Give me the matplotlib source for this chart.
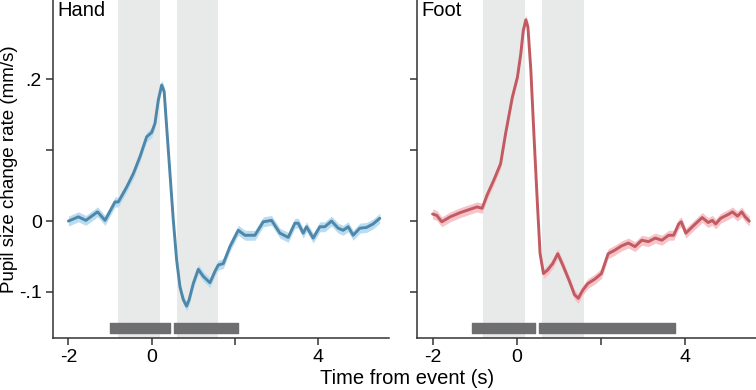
import matplotlib
matplotlib.use('Agg')
from matplotlib import pyplot as plt
import numpy as np

plt.rcParams['font.family'] = ['Liberation Sans', 'DejaVu Sans']

# hand condition
hand_t = [-2.0, -1.76, -1.58, -1.30, -1.12, -0.88, -0.80, -0.60, -0.44, -0.28, -0.12, 0.0, 0.08, 0.16,
          0.24, 0.30, 0.36, 0.44, 0.52, 0.60, 0.68, 0.76, 0.84, 0.90, 1.0, 1.12, 1.24, 1.40, 1.52, 1.60,
          1.72, 1.88, 2.08, 2.24, 2.48, 2.68, 2.88, 3.08, 3.28, 3.44, 3.52, 3.64, 3.72, 3.88, 4.04, 4.16,
          4.32, 4.48, 4.60, 4.72, 4.84, 5.00, 5.16, 5.32, 5.48]
hand_v = [0.0, 0.006, 0.001, 0.013, 0.001, 0.027, 0.027, 0.048, 0.067, 0.091, 0.119, 0.125, 0.138, 0.171,
          0.192, 0.183, 0.133, 0.067, 0.001, -0.055, -0.093, -0.111, -0.120, -0.111, -0.088, -0.068, -0.078,
          -0.087, -0.071, -0.062, -0.060, -0.036, -0.013, -0.020, -0.020, -0.001, 0.001, -0.017, -0.023,
          -0.003, -0.003, -0.017, -0.008, -0.024, -0.008, -0.008, 0.0, -0.010, -0.013, -0.008, -0.020,
          -0.010, -0.009, -0.004, 0.004]

# foot condition
foot_t = [-2.0, -1.90, -1.78, -1.58, -1.34, -1.14, -0.94, -0.82, -0.70, -0.54, -0.38, -0.26, -0.10, 0.02,
          0.10, 0.16, 0.22, 0.27, 0.34, 0.42, 0.50, 0.56, 0.64, 0.74, 0.86, 0.98, 1.10, 1.26, 1.38, 1.47,
          1.58, 1.70, 1.86, 2.02, 2.18, 2.34, 2.50, 2.66, 2.82, 2.98, 3.14, 3.30, 3.46, 3.62, 3.74, 3.86,
          3.92, 4.03, 4.22, 4.42, 4.56, 4.66, 4.74, 4.86, 5.06, 5.14, 5.26, 5.36, 5.44, 5.54]
foot_v = [0.010, 0.008, -0.001, 0.006, 0.012, 0.016, 0.020, 0.018, 0.037, 0.058, 0.081, 0.124, 0.175, 0.203,
          0.236, 0.269, 0.284, 0.274, 0.213, 0.114, 0.020, -0.046, -0.074, -0.069, -0.060, -0.046, -0.062,
          -0.085, -0.104, -0.109, -0.097, -0.088, -0.082, -0.074, -0.046, -0.041, -0.035, -0.031, -0.036,
          -0.027, -0.029, -0.024, -0.027, -0.020, -0.020, -0.004, -0.001, -0.017, -0.006, 0.005, -0.002,
          0.001, -0.004, 0.004, 0.010, 0.013, 0.007, 0.013, 0.006, 0.0]

sem = 0.007

# grey windows (s)
windows = [(-0.8, 0.2), (0.6, 1.6)]
# significance bars (start, end)
hand_sig = [(-0.99, 0.44), (0.54, 2.08)]
foot_sig = [(-1.06, 0.44), (0.54, 3.77)]

panels = [("Hand", hand_t, hand_v, hand_sig, '#4f87a9', '#b9dcf1'),
          ("Foot", foot_t, foot_v, foot_sig, '#c25a62', '#f6c3c8')]

fig = plt.figure(figsize=(7.56, 3.9), dpi=100)
ax1 = fig.add_axes([0.0701, 0.1333, 0.4444, 0.8667])
ax2 = fig.add_axes([0.5516, 0.1333, 0.4484, 0.8667], sharey=ax1)

for ax, (name, t, v, sig, lc, bc) in zip([ax1, ax2], panels):
    for a, b in windows:
        ax.axvspan(a, b, color='#e8eaea', lw=0, zorder=0)
    t = np.array(t); v = np.array(v)
    ax.fill_between(t, v - sem, v + sem, color=bc, lw=0, zorder=2)
    ax.plot(t, v, color=lc, lw=2.1, zorder=3, solid_joinstyle='round', solid_capstyle='round')
    for a, b in sig:
        ax.broken_barh([(a, b - a)], (-0.158, 0.014), color='#6e6e70', zorder=3)
    ax.text(0.013, 0.998, name, transform=ax.transAxes, ha='left', va='top', fontsize=14.5)
    ax.set_xlim(-2.37, 5.7)
    ax.set_xticks([-2, 0, 2, 4])
    ax.set_xticklabels(['-2', '0', '', '4'])
    for s in ['top', 'right']:
        ax.spines[s].set_visible(False)
    for s in ['left', 'bottom']:
        ax.spines[s].set_color('#333333')
        ax.spines[s].set_linewidth(1.1)
    ax.tick_params(direction='out', length=5, width=1.1, color='#333333', labelsize=14, pad=3)

ax1.set_ylim(-0.165, 0.312)
ax1.set_yticks([-0.1, 0, 0.1, 0.2])
ax1.set_yticklabels(['-.1', '0', '', '.2'])
ax1.set_ylabel('Pupil size change rate (mm/s)', fontsize=13.5, labelpad=1)
ax2.tick_params(labelleft=False)
fig.text(0.538, 0.006, 'Time from event (s)', ha='center', va='bottom', fontsize=14.5)

fig.savefig('out.png', dpi=100)
